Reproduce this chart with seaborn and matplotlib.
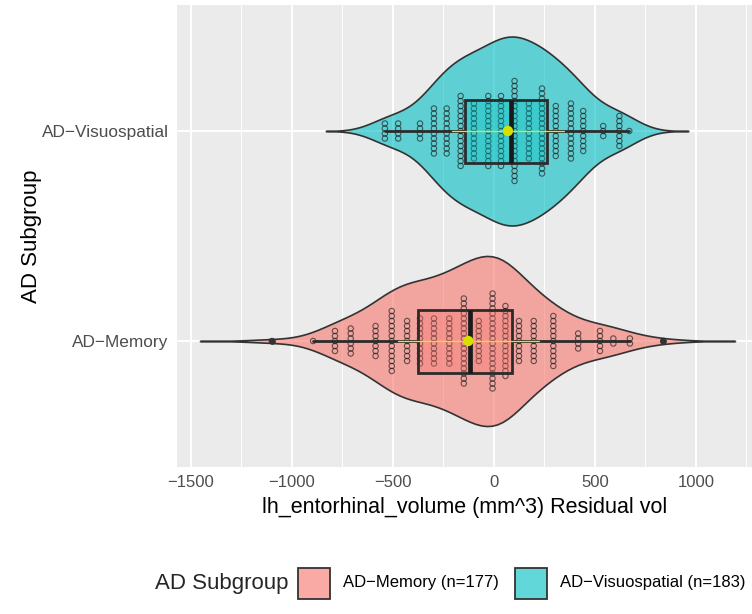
import numpy as np
import pandas as pd
import matplotlib
matplotlib.use("Agg")
import matplotlib.pyplot as plt
from matplotlib.patches import Rectangle
from matplotlib.ticker import MultipleLocator
from matplotlib.colors import to_rgba
import seaborn as sns

# ---- data -------------------------------------------------------------
groups = ["AD\u2212Visuospatial", "AD\u2212Memory"]          # top to bottom
group_colors = ["#00BFC4", "#F8766D"]
legend_labels = ["AD\u2212Memory (n=177)", "AD\u2212Visuospatial (n=183)"]
legend_colors = ["#F8766D", "#00BFC4"]

# residual volume bins (mm^3) and number of subjects in each bin
memory_bins = [-1100, -895, -787, -709, -586, -506, -430, -366, -297, -221, -149,
               -75, -7, 57, 124, 197, 294, 417, 525, 591, 673, 838]
memory_counts = [1, 1, 5, 6, 7, 13, 9, 10, 10, 10, 18, 9, 20, 15, 9, 9, 11, 4, 5, 2, 2, 1]

visuo_bins = [-540, -474, -366, -297, -234, -165, -99, -28, 35, 102, 173, 238,
              306, 381, 442, 541, 621, 670]
visuo_counts = [4, 4, 4, 10, 10, 15, 12, 15, 15, 21, 12, 18, 11, 12, 9, 3, 7, 1]

# box summaries
visuo_box = dict(q1=-143, med=84, q3=261, whislo=-540, whishi=670, fliers=[])
memory_box = dict(q1=-376, med=-119, q3=89, whislo=-895, whishi=673, fliers=[-1100, 838])

visuo_vals = np.repeat(visuo_bins, visuo_counts)
memory_vals = np.repeat(memory_bins, memory_counts)

df = pd.DataFrame({
    "group": [groups[0]] * len(visuo_vals) + [groups[1]] * len(memory_vals),
    "value": np.concatenate([visuo_vals, memory_vals]),
})

# ---- style ------------------------------------------------------------
sns.set_theme(style="darkgrid", rc={
    "axes.facecolor": "#EBEBEB",
    "figure.facecolor": "white",
    "axes.axisbelow": True,
})
plt.rcParams["font.family"] = ["Liberation Sans", "DejaVu Sans"]

W, H = 752, 614
fig = plt.figure(figsize=(W / 100, H / 100), dpi=100)
ax = fig.add_axes([177 / W, 147 / H, 575 / W, 462 / H])

# ---- violins (one per group, each with its own bandwidth) ---------------
for g, bw, wd in [(groups[0], 1.0, 0.9), (groups[1], 0.95, 0.81)]:
    sns.violinplot(data=df[df["group"] == g], x="value", y="group", hue="group",
                   order=groups, hue_order=groups, palette=group_colors, cut=3,
                   bw_adjust=bw, density_norm="width", inner=None, width=wd,
                   linewidth=1.2, linecolor="#333333", saturation=1,
                   legend=False, ax=ax)
for coll in ax.collections:
    fc = coll.get_facecolor()
    fc[:, 3] = 0.6
    coll.set_facecolor(fc)

# ---- stacked dots -----------------------------------------------------
pitch = 0.0238
for pos, (bins, counts) in enumerate([(visuo_bins, visuo_counts),
                                      (memory_bins, memory_counts)]):
    xs, ys = [], []
    for b, k in zip(bins, counts):
        offs = (np.arange(k) - (k - 1) / 2) * pitch
        xs.extend([b] * k)
        ys.extend(pos + offs)
    ax.scatter(xs, ys, s=15, facecolors="none", edgecolors=(0.1, 0.1, 0.1, 0.65),
               linewidths=0.8, zorder=3)

# ---- boxes, mean +/- sd, mean ----------------------------------------
for pos, (box, col, vals) in enumerate([(visuo_box, group_colors[0], visuo_vals),
                                        (memory_box, group_colors[1], memory_vals)]):
    ax.bxp([box], positions=[pos], widths=0.3, orientation="horizontal",
           patch_artist=True, showcaps=False, showfliers=True, manage_ticks=False,
           boxprops=dict(facecolor=to_rgba(col, 0.35), edgecolor="#2B2B2B", linewidth=2.0),
           whiskerprops=dict(color="#2B2B2B", linewidth=2.0),
           medianprops=dict(color="#1A1A1A", linewidth=3.4),
           flierprops=dict(marker="o", markerfacecolor="#333333",
                           markeredgecolor="#333333", markersize=3.8),
           zorder=4)
    m, sd = vals.mean(), vals.std()
    ax.plot([m - sd, m + sd], [pos, pos], color="#E6E600", lw=0.9, zorder=5)
    ax.scatter([m], [pos], s=55, color="#D8E000", edgecolors="none", zorder=6)

# ---- axes -------------------------------------------------------------
ax.set_xlim(-1569, 1277.5)
ax.set_ylim(1.6, -0.6)
ax.set_yticks([0, 1])
ax.set_yticklabels(groups)
ax.xaxis.set_major_locator(MultipleLocator(500))
ax.xaxis.set_minor_locator(MultipleLocator(250))
ax.grid(which="major", color="white", linewidth=1.4)
ax.grid(which="minor", axis="x", color="white", linewidth=0.7)
ax.tick_params(which="major", length=4, width=1.3, color="#333333",
               labelcolor="#4D4D4D", labelsize=12, pad=2)
ax.tick_params(axis="y", labelsize=12.4)
ax.tick_params(which="minor", length=0)
for s in ax.spines.values():
    s.set_visible(False)

ax.set_xlabel("lh_entorhinal_volume (mm^3) Residual vol", fontsize=15.5, color="black")
ax.xaxis.set_label_coords(0.5, -0.066)
ax.set_ylabel("AD Subgroup", fontsize=16, color="black")
ax.yaxis.set_label_coords((42 - 177) / 575, 0.5)

# ---- legend -----------------------------------------------------------
ly = 1 - 583 / H
fig.text(155 / W, ly, "AD Subgroup", fontsize=16, va="center", ha="left")
for kx, tx, lab, col in [(298, 343, legend_labels[0], legend_colors[0]),
                         (515, 560, legend_labels[1], legend_colors[1])]:
    fig.add_artist(Rectangle((kx / W, 1 - 599 / H), 32 / W, 31 / H,
                             transform=fig.transFigure,
                             facecolor=to_rgba(col, 0.62), edgecolor="#333333",
                             linewidth=1.3))
    fig.text(tx / W, ly, lab, fontsize=12, va="center", ha="left", color="black")

fig.savefig("out.png", dpi=100)
